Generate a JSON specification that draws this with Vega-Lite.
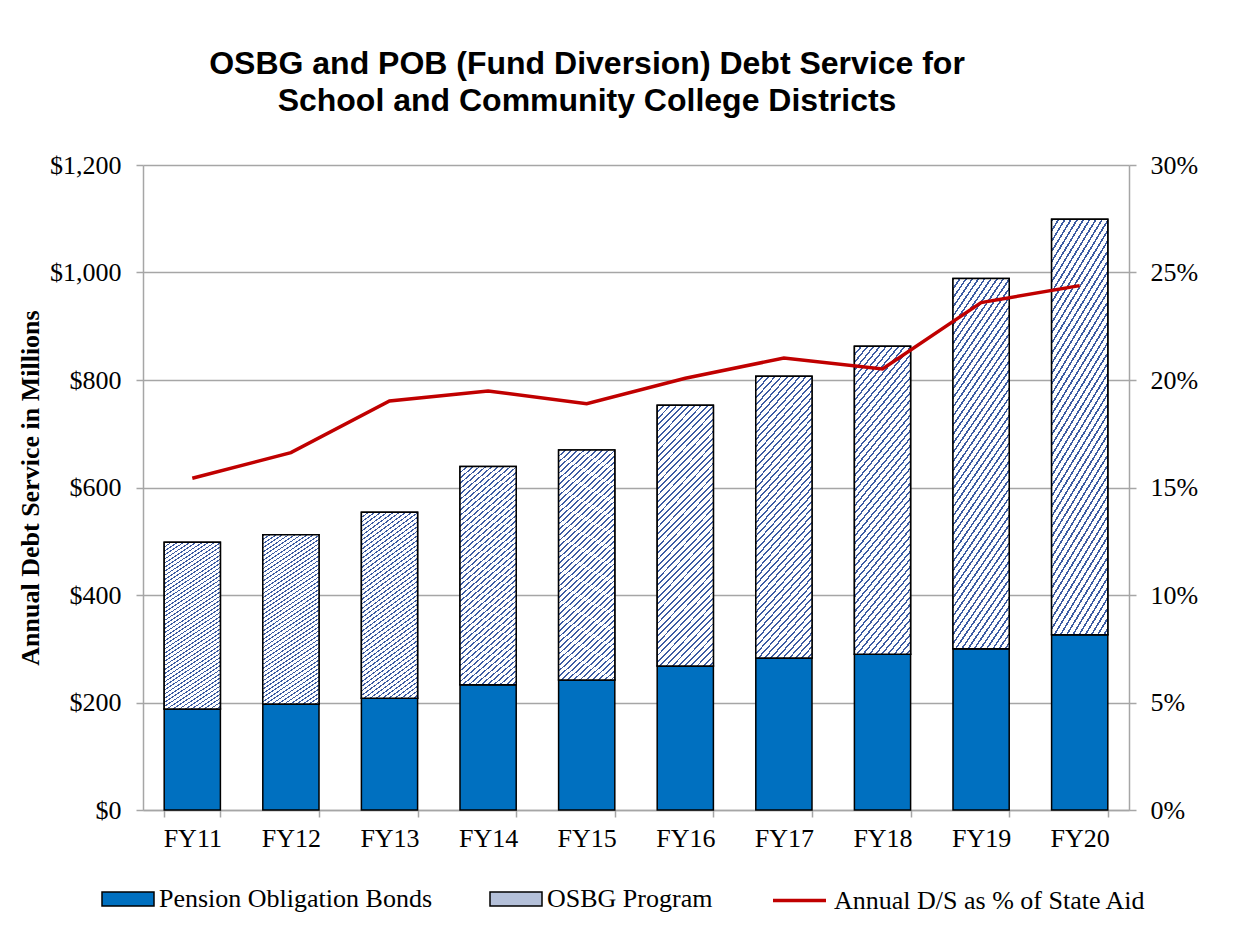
{
  "$schema": "https://vega.github.io/schema/vega-lite/v6.json",
  "width": 986,
  "height": 645,
  "autosize": {"type": "none"},
  "padding": {"left": 143, "top": 165, "right": 123, "bottom": 124},
  "background": "white",
  "title": {
    "text": ["OSBG and POB (Fund Diversion) Debt Service for", "School and Community College Districts"],
    "font": "Liberation Sans",
    "fontSize": 32,
    "fontWeight": "bold",
    "color": "black",
    "anchor": "middle",
    "dx": -49,
    "offset": 34,
    "lineHeight": 37
  },
  "datasets": {
    "bars": [
      {"year": "FY11", "series": "Pension Obligation Bonds", "amount": 188},
      {"year": "FY11", "series": "OSBG Program", "amount": 310},
      {"year": "FY12", "series": "Pension Obligation Bonds", "amount": 197},
      {"year": "FY12", "series": "OSBG Program", "amount": 315},
      {"year": "FY13", "series": "Pension Obligation Bonds", "amount": 208},
      {"year": "FY13", "series": "OSBG Program", "amount": 346},
      {"year": "FY14", "series": "Pension Obligation Bonds", "amount": 233},
      {"year": "FY14", "series": "OSBG Program", "amount": 406},
      {"year": "FY15", "series": "Pension Obligation Bonds", "amount": 242},
      {"year": "FY15", "series": "OSBG Program", "amount": 428},
      {"year": "FY16", "series": "Pension Obligation Bonds", "amount": 268},
      {"year": "FY16", "series": "OSBG Program", "amount": 485},
      {"year": "FY17", "series": "Pension Obligation Bonds", "amount": 283},
      {"year": "FY17", "series": "OSBG Program", "amount": 524},
      {"year": "FY18", "series": "Pension Obligation Bonds", "amount": 290},
      {"year": "FY18", "series": "OSBG Program", "amount": 573},
      {"year": "FY19", "series": "Pension Obligation Bonds", "amount": 300},
      {"year": "FY19", "series": "OSBG Program", "amount": 689},
      {"year": "FY20", "series": "Pension Obligation Bonds", "amount": 326},
      {"year": "FY20", "series": "OSBG Program", "amount": 773}
    ],
    "pct": [
      {"year": "FY11", "pct": 0.1543},
      {"year": "FY12", "pct": 0.1662},
      {"year": "FY13", "pct": 0.1902},
      {"year": "FY14", "pct": 0.1949},
      {"year": "FY15", "pct": 0.1890},
      {"year": "FY16", "pct": 0.2008},
      {"year": "FY17", "pct": 0.2102},
      {"year": "FY18", "pct": 0.2051},
      {"year": "FY19", "pct": 0.2360},
      {"year": "FY20", "pct": 0.2439}
    ]
  },
  "config": {
    "view": {"stroke": null},
    "axis": {
      "labelFont": "Liberation Serif",
      "labelFontSize": 26,
      "labelColor": "black",
      "titleFont": "Liberation Serif",
      "titleFontSize": 26,
      "titleFontWeight": "bold",
      "titleColor": "black",
      "domainColor": "#a6a6a6",
      "tickColor": "#a6a6a6",
      "gridColor": "#a6a6a6",
      "domainWidth": 1.5,
      "tickWidth": 1.5,
      "gridWidth": 1.5,
      "tickSize": 7
    },
    "legend": {
      "labelFont": "Liberation Serif",
      "labelFontSize": 26,
      "labelColor": "black",
      "labelLimit": 500
    }
  },
  "layer": [
    {
      "data": {"name": "bars"},
      "encoding": {
        "x": {
          "field": "year",
          "type": "nominal",
          "scale": {"paddingInner": 0.43, "paddingOuter": 0.215},
          "axis": {
            "title": null,
            "labelAngle": 0,
            "tickBand": "extent",
            "labelPadding": 8,
            "grid": false
          }
        }
      },
      "layer": [
        {
          "mark": {"type": "bar", "stroke": "black", "strokeWidth": 1.5},
          "encoding": {
            "y": {
              "field": "amount",
              "type": "quantitative",
              "stack": "zero",
              "scale": {"domain": [0, 1200], "nice": false},
              "axis": {
                "title": "Annual Debt Service in Millions",
                "values": [0, 200, 400, 600, 800, 1000, 1200],
                "labelExpr": "'$' + format(datum.value, ',')",
                "labelPadding": 15,
                "titlePadding": 6,
                "grid": true
              }
            },
            "fill": {
              "field": "series",
              "type": "nominal",
              "scale": {
                "domain": ["Pension Obligation Bonds", "OSBG Program"],
                "range": ["#0070c0", "#b4c0d9"]
              },
              "legend": {
                "title": null,
                "orient": "none",
                "direction": "horizontal",
                "legendX": -42,
                "legendY": 707,
                "columnPadding": 54,
                "symbolType": "M-1,-0.27H1V0.27H-1Z",
                "symbolSize": 2704,
                "symbolStrokeColor": "black",
                "symbolStrokeWidth": 1.5,
                "symbolOpacity": 1,
                "labelOffset": 4
              }
            },
            "order": {"field": "series", "sort": "descending"}
          }
        },
        {
          "transform": [
            {"stack": "amount", "groupby": ["year"], "sort": [{"field": "series", "order": "descending"}], "as": ["lo", "hi"]},
            {"filter": "datum.series === 'OSBG Program'"}
          ],
          "mark": {
            "type": "bar",
            "stroke": "black",
            "strokeWidth": 1.5,
            "fill": {"gradient": "linear", "x1": 0, "y1": 0, "x2": 0.26, "y2": 1.17, "stops": [
              {"offset": 0, "color": "#3d5ca3"}, {"offset": 0.006, "color": "#3d5ca3"}, {"offset": 0.006, "color": "#ffffff"}, {"offset": 0.02, "color": "#ffffff"},
              {"offset": 0.02, "color": "#3d5ca3"}, {"offset": 0.026, "color": "#3d5ca3"}, {"offset": 0.026, "color": "#ffffff"}, {"offset": 0.04, "color": "#ffffff"},
              {"offset": 0.04, "color": "#3d5ca3"}, {"offset": 0.046, "color": "#3d5ca3"}, {"offset": 0.046, "color": "#ffffff"}, {"offset": 0.06, "color": "#ffffff"},
              {"offset": 0.06, "color": "#3d5ca3"}, {"offset": 0.066, "color": "#3d5ca3"}, {"offset": 0.066, "color": "#ffffff"}, {"offset": 0.08, "color": "#ffffff"},
              {"offset": 0.08, "color": "#3d5ca3"}, {"offset": 0.086, "color": "#3d5ca3"}, {"offset": 0.086, "color": "#ffffff"}, {"offset": 0.1, "color": "#ffffff"},
              {"offset": 0.1, "color": "#3d5ca3"}, {"offset": 0.106, "color": "#3d5ca3"}, {"offset": 0.106, "color": "#ffffff"}, {"offset": 0.12, "color": "#ffffff"},
              {"offset": 0.12, "color": "#3d5ca3"}, {"offset": 0.126, "color": "#3d5ca3"}, {"offset": 0.126, "color": "#ffffff"}, {"offset": 0.14, "color": "#ffffff"},
              {"offset": 0.14, "color": "#3d5ca3"}, {"offset": 0.146, "color": "#3d5ca3"}, {"offset": 0.146, "color": "#ffffff"}, {"offset": 0.16, "color": "#ffffff"},
              {"offset": 0.16, "color": "#3d5ca3"}, {"offset": 0.166, "color": "#3d5ca3"}, {"offset": 0.166, "color": "#ffffff"}, {"offset": 0.18, "color": "#ffffff"},
              {"offset": 0.18, "color": "#3d5ca3"}, {"offset": 0.186, "color": "#3d5ca3"}, {"offset": 0.186, "color": "#ffffff"}, {"offset": 0.2, "color": "#ffffff"},
              {"offset": 0.2, "color": "#3d5ca3"}, {"offset": 0.206, "color": "#3d5ca3"}, {"offset": 0.206, "color": "#ffffff"}, {"offset": 0.22, "color": "#ffffff"},
              {"offset": 0.22, "color": "#3d5ca3"}, {"offset": 0.226, "color": "#3d5ca3"}, {"offset": 0.226, "color": "#ffffff"}, {"offset": 0.24, "color": "#ffffff"},
              {"offset": 0.24, "color": "#3d5ca3"}, {"offset": 0.246, "color": "#3d5ca3"}, {"offset": 0.246, "color": "#ffffff"}, {"offset": 0.26, "color": "#ffffff"},
              {"offset": 0.26, "color": "#3d5ca3"}, {"offset": 0.266, "color": "#3d5ca3"}, {"offset": 0.266, "color": "#ffffff"}, {"offset": 0.28, "color": "#ffffff"},
              {"offset": 0.28, "color": "#3d5ca3"}, {"offset": 0.286, "color": "#3d5ca3"}, {"offset": 0.286, "color": "#ffffff"}, {"offset": 0.3, "color": "#ffffff"},
              {"offset": 0.3, "color": "#3d5ca3"}, {"offset": 0.306, "color": "#3d5ca3"}, {"offset": 0.306, "color": "#ffffff"}, {"offset": 0.32, "color": "#ffffff"},
              {"offset": 0.32, "color": "#3d5ca3"}, {"offset": 0.326, "color": "#3d5ca3"}, {"offset": 0.326, "color": "#ffffff"}, {"offset": 0.34, "color": "#ffffff"},
              {"offset": 0.34, "color": "#3d5ca3"}, {"offset": 0.346, "color": "#3d5ca3"}, {"offset": 0.346, "color": "#ffffff"}, {"offset": 0.36, "color": "#ffffff"},
              {"offset": 0.36, "color": "#3d5ca3"}, {"offset": 0.366, "color": "#3d5ca3"}, {"offset": 0.366, "color": "#ffffff"}, {"offset": 0.38, "color": "#ffffff"},
              {"offset": 0.38, "color": "#3d5ca3"}, {"offset": 0.386, "color": "#3d5ca3"}, {"offset": 0.386, "color": "#ffffff"}, {"offset": 0.4, "color": "#ffffff"},
              {"offset": 0.4, "color": "#3d5ca3"}, {"offset": 0.406, "color": "#3d5ca3"}, {"offset": 0.406, "color": "#ffffff"}, {"offset": 0.42, "color": "#ffffff"},
              {"offset": 0.42, "color": "#3d5ca3"}, {"offset": 0.426, "color": "#3d5ca3"}, {"offset": 0.426, "color": "#ffffff"}, {"offset": 0.44, "color": "#ffffff"},
              {"offset": 0.44, "color": "#3d5ca3"}, {"offset": 0.446, "color": "#3d5ca3"}, {"offset": 0.446, "color": "#ffffff"}, {"offset": 0.46, "color": "#ffffff"},
              {"offset": 0.46, "color": "#3d5ca3"}, {"offset": 0.466, "color": "#3d5ca3"}, {"offset": 0.466, "color": "#ffffff"}, {"offset": 0.48, "color": "#ffffff"},
              {"offset": 0.48, "color": "#3d5ca3"}, {"offset": 0.486, "color": "#3d5ca3"}, {"offset": 0.486, "color": "#ffffff"}, {"offset": 0.5, "color": "#ffffff"},
              {"offset": 0.5, "color": "#3d5ca3"}, {"offset": 0.506, "color": "#3d5ca3"}, {"offset": 0.506, "color": "#ffffff"}, {"offset": 0.52, "color": "#ffffff"},
              {"offset": 0.52, "color": "#3d5ca3"}, {"offset": 0.526, "color": "#3d5ca3"}, {"offset": 0.526, "color": "#ffffff"}, {"offset": 0.54, "color": "#ffffff"},
              {"offset": 0.54, "color": "#3d5ca3"}, {"offset": 0.546, "color": "#3d5ca3"}, {"offset": 0.546, "color": "#ffffff"}, {"offset": 0.56, "color": "#ffffff"},
              {"offset": 0.56, "color": "#3d5ca3"}, {"offset": 0.566, "color": "#3d5ca3"}, {"offset": 0.566, "color": "#ffffff"}, {"offset": 0.58, "color": "#ffffff"},
              {"offset": 0.58, "color": "#3d5ca3"}, {"offset": 0.586, "color": "#3d5ca3"}, {"offset": 0.586, "color": "#ffffff"}, {"offset": 0.6, "color": "#ffffff"},
              {"offset": 0.6, "color": "#3d5ca3"}, {"offset": 0.606, "color": "#3d5ca3"}, {"offset": 0.606, "color": "#ffffff"}, {"offset": 0.62, "color": "#ffffff"},
              {"offset": 0.62, "color": "#3d5ca3"}, {"offset": 0.626, "color": "#3d5ca3"}, {"offset": 0.626, "color": "#ffffff"}, {"offset": 0.64, "color": "#ffffff"},
              {"offset": 0.64, "color": "#3d5ca3"}, {"offset": 0.646, "color": "#3d5ca3"}, {"offset": 0.646, "color": "#ffffff"}, {"offset": 0.66, "color": "#ffffff"},
              {"offset": 0.66, "color": "#3d5ca3"}, {"offset": 0.666, "color": "#3d5ca3"}, {"offset": 0.666, "color": "#ffffff"}, {"offset": 0.68, "color": "#ffffff"},
              {"offset": 0.68, "color": "#3d5ca3"}, {"offset": 0.686, "color": "#3d5ca3"}, {"offset": 0.686, "color": "#ffffff"}, {"offset": 0.7, "color": "#ffffff"},
              {"offset": 0.7, "color": "#3d5ca3"}, {"offset": 0.706, "color": "#3d5ca3"}, {"offset": 0.706, "color": "#ffffff"}, {"offset": 0.72, "color": "#ffffff"},
              {"offset": 0.72, "color": "#3d5ca3"}, {"offset": 0.726, "color": "#3d5ca3"}, {"offset": 0.726, "color": "#ffffff"}, {"offset": 0.74, "color": "#ffffff"},
              {"offset": 0.74, "color": "#3d5ca3"}, {"offset": 0.746, "color": "#3d5ca3"}, {"offset": 0.746, "color": "#ffffff"}, {"offset": 0.76, "color": "#ffffff"},
              {"offset": 0.76, "color": "#3d5ca3"}, {"offset": 0.766, "color": "#3d5ca3"}, {"offset": 0.766, "color": "#ffffff"}, {"offset": 0.78, "color": "#ffffff"},
              {"offset": 0.78, "color": "#3d5ca3"}, {"offset": 0.786, "color": "#3d5ca3"}, {"offset": 0.786, "color": "#ffffff"}, {"offset": 0.8, "color": "#ffffff"},
              {"offset": 0.8, "color": "#3d5ca3"}, {"offset": 0.806, "color": "#3d5ca3"}, {"offset": 0.806, "color": "#ffffff"}, {"offset": 0.82, "color": "#ffffff"},
              {"offset": 0.82, "color": "#3d5ca3"}, {"offset": 0.826, "color": "#3d5ca3"}, {"offset": 0.826, "color": "#ffffff"}, {"offset": 0.84, "color": "#ffffff"},
              {"offset": 0.84, "color": "#3d5ca3"}, {"offset": 0.846, "color": "#3d5ca3"}, {"offset": 0.846, "color": "#ffffff"}, {"offset": 0.86, "color": "#ffffff"},
              {"offset": 0.86, "color": "#3d5ca3"}, {"offset": 0.866, "color": "#3d5ca3"}, {"offset": 0.866, "color": "#ffffff"}, {"offset": 0.88, "color": "#ffffff"},
              {"offset": 0.88, "color": "#3d5ca3"}, {"offset": 0.886, "color": "#3d5ca3"}, {"offset": 0.886, "color": "#ffffff"}, {"offset": 0.9, "color": "#ffffff"},
              {"offset": 0.9, "color": "#3d5ca3"}, {"offset": 0.906, "color": "#3d5ca3"}, {"offset": 0.906, "color": "#ffffff"}, {"offset": 0.92, "color": "#ffffff"},
              {"offset": 0.92, "color": "#3d5ca3"}, {"offset": 0.926, "color": "#3d5ca3"}, {"offset": 0.926, "color": "#ffffff"}, {"offset": 0.94, "color": "#ffffff"},
              {"offset": 0.94, "color": "#3d5ca3"}, {"offset": 0.946, "color": "#3d5ca3"}, {"offset": 0.946, "color": "#ffffff"}, {"offset": 0.96, "color": "#ffffff"},
              {"offset": 0.96, "color": "#3d5ca3"}, {"offset": 0.966, "color": "#3d5ca3"}, {"offset": 0.966, "color": "#ffffff"}, {"offset": 0.98, "color": "#ffffff"},
              {"offset": 0.98, "color": "#3d5ca3"}, {"offset": 0.986, "color": "#3d5ca3"}, {"offset": 0.986, "color": "#ffffff"}, {"offset": 1, "color": "#ffffff"}
            ]}
          },
          "encoding": {
            "y": {"field": "hi", "type": "quantitative"},
            "y2": {"field": "lo"}
          }
        }
      ]
    },
    {
      "data": {"name": "pct"},
      "mark": {"type": "line", "strokeWidth": 3.5},
      "encoding": {
        "x": {"field": "year", "type": "nominal"},
        "y": {
          "field": "pct",
          "type": "quantitative",
          "scale": {"domain": [0, 0.3], "nice": false},
          "axis": {
            "orient": "right",
            "title": null,
            "values": [0, 0.05, 0.1, 0.15, 0.2, 0.25, 0.3],
            "format": ".0%",
            "labelPadding": 14,
            "grid": false
          }
        },
        "stroke": {
          "datum": "Annual D/S as % of State Aid",
          "type": "nominal",
          "scale": {"range": ["#c00000"]},
          "legend": {
            "title": null,
            "orient": "none",
            "legendX": 628,
            "legendY": 707,
            "symbolType": "stroke",
            "symbolSize": 2809,
            "symbolStrokeWidth": 3.5,
            "labelOffset": 6
          }
        }
      }
    }
  ],
  "resolve": {"scale": {"y": "independent", "stroke": "independent"}}
}
